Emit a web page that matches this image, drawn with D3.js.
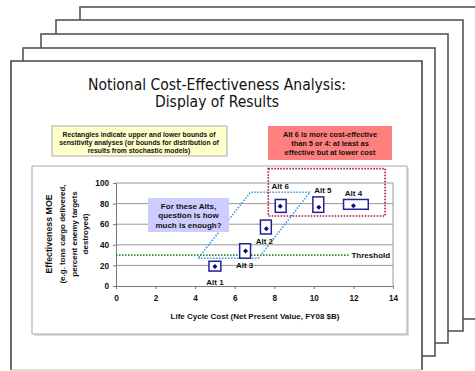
<!DOCTYPE html>
<html>
<head>
<meta charset="utf-8">
<script src="https://cdn.jsdelivr.net/npm/d3@7"></script>
<style>
  html, body { margin: 0; padding: 0; background: #fff; }
  svg { display: block; }
  text { font-family: "Liberation Sans", Arial, sans-serif; }
</style>
</head>
<body>
<svg id="chart" width="475" height="371"></svg>
<script>
// Alternatives: centre estimates and sensitivity bounds
const alts    = ["Alt 1", "Alt 2", "Alt 3", "Alt 4", "Alt 5", "Alt 6"];
const costMid = [5.0, 7.6, 6.55, 12.0, 10.25, 8.3];
const costLo  = [4.7, 7.3, 6.25, 11.5, 9.95, 8.05];
const costHi  = [5.3, 7.85, 6.8, 12.75, 10.5, 8.6];
const effMid  = [19, 55.5, 34, 78, 76.5, 77.5];
const effLo   = [14.5, 50.5, 27, 74.5, 71.5, 71.5];
const effHi   = [24, 64, 41, 84, 86.5, 84];

const xTicks = [0, 2, 4, 6, 8, 10, 12, 14];
const yTicks = [0, 20, 40, 60, 80, 100];
const threshold = 30;
const thresholdEnd = 11.8;

// "How much is enough" band (cost, effectiveness corners)
const bandCost = [4.15, 7.2, 9.8, 6.8];
const bandEff  = [27, 27, 91, 91];

// Dominance region around the high-effectiveness alternatives
const domCost = [7.7, 13.6];
const domEff  = [68, 114];

const titleLines  = ["Notional Cost-Effectiveness Analysis:", "Display of Results"];
const noteLines   = ["Rectangles indicate upper and lower bounds of",
                     "sensitivity analyses (or bounds for distribution of",
                     "results from stochastic models)"];
const alt6Lines   = ["Alt 6 is more cost-effective", "than 5 or 4: at least as",
                     "effective but at lower cost"];
const calloutLines = ["For these Alts,", "question is how", "much is enough?"];
const yTitleLines = ["Effectiveness MOE", "(e.g. tons cargo delivered,",
                     "percent enemy targets", "destroyed)"];
const xTitle = "Life Cycle Cost (Net Present Value, FY08 $B)";

const svg = d3.select("#chart");

// Stack of slide outlines behind the front page
const stack = [
  {x: 80, y: 7,  r: 490, b: 319},
  {x: 56, y: 20, r: 463, b: 331},
  {x: 41, y: 34, r: 448, b: 343},
  {x: 23, y: 48, r: 435, b: 356}
];
stack.forEach(s => {
  svg.append("rect").attr("x", s.x).attr("y", s.y)
    .attr("width", s.r - s.x).attr("height", s.b - s.y)
    .attr("fill", "#fff").attr("stroke", "#555").attr("stroke-width", 1.6);
});
// Front page
svg.append("rect").attr("x", 11).attr("y", 61).attr("width", 411).attr("height", 309)
  .attr("fill", "#fff").attr("stroke", "none");
svg.append("path").attr("d", "M11,370 V61 H422 V370")
  .attr("fill", "none").attr("stroke", "#444").attr("stroke-width", 1.6);
svg.append("line").attr("x1", 11).attr("x2", 422).attr("y1", 370).attr("y2", 370)
  .attr("stroke", "#bbb").attr("stroke-width", 1);

// Title
svg.append("g").selectAll("text").data(titleLines).join("text")
  .attr("x", 217).attr("y", (d, i) => 89.5 + i * 17)
  .attr("text-anchor", "middle")
  .style("font-family", "'DejaVu Sans Condensed', 'DejaVu Sans', sans-serif")
  .style("font-size", "15.5px").attr("fill", "#111")
  .text(d => d);

// Yellow note box
svg.append("rect").attr("x", 52).attr("y", 126).attr("width", 175).attr("height", 30)
  .attr("fill", "#ffffcc").attr("stroke", "#aaa").attr("stroke-width", 1);
svg.append("g").selectAll("text").data(noteLines).join("text")
  .attr("x", 139).attr("y", (d, i) => 136.5 + i * 8)
  .attr("text-anchor", "middle").style("font-size", "6.8px").style("font-weight", "bold")
  .attr("fill", "#111").text(d => d);

// Red note box
svg.append("rect").attr("x", 268).attr("y", 126).attr("width", 124).attr("height", 34)
  .attr("fill", "#ff7f7f");
svg.append("g").selectAll("text").data(alt6Lines).join("text")
  .attr("x", 330).attr("y", (d, i) => 136.5 + i * 9.4)
  .attr("text-anchor", "middle").style("font-size", "7.4px").style("font-weight", "bold")
  .attr("fill", "#111").text(d => d);

// Chart frame with a light shadow
svg.append("rect").attr("x", 34).attr("y", 168).attr("width", 375).attr("height", 168)
  .attr("fill", "#ddd");
svg.append("rect").attr("x", 32).attr("y", 166).attr("width", 375).attr("height", 168)
  .attr("fill", "#fff").attr("stroke", "#aaa").attr("stroke-width", 1);

// Scales
const x = d3.scaleLinear().domain([0, 14]).range([116, 393]);
const y = d3.scaleLinear().domain([0, 100]).range([286, 183]);

// Gridlines and plot border
const plot = svg.append("g");
plot.selectAll("line.grid").data(yTicks.filter(v => v > 0)).join("line")
  .attr("x1", x(0)).attr("x2", x(14)).attr("y1", d => y(d)).attr("y2", d => y(d))
  .attr("stroke", "#999").attr("stroke-width", 1);
plot.append("line").attr("x1", x(14)).attr("x2", x(14)).attr("y1", y(100)).attr("y2", y(0))
  .attr("stroke", "#999");

// Axes
const xAxis = svg.append("g").attr("transform", `translate(0,${y(0)})`)
  .call(d3.axisBottom(x).tickValues(xTicks).tickSize(3).tickPadding(6));
const yAxis = svg.append("g").attr("transform", `translate(${x(0)},0)`)
  .call(d3.axisLeft(y).tickValues(yTicks).tickSize(3).tickPadding(4));
[xAxis, yAxis].forEach(a => {
  a.select(".domain").attr("stroke", "#777");
  a.selectAll(".tick line").attr("stroke", "#777");
  a.selectAll(".tick text").style("font-size", "8.2px").style("font-weight", "bold")
    .style("font-family", "'Liberation Sans', Arial, sans-serif").attr("fill", "#111");
});

// Axis titles
svg.append("text").attr("x", 255).attr("y", 319).attr("text-anchor", "middle")
  .style("font-size", "8px").style("font-weight", "bold").attr("fill", "#111")
  .text(xTitle);
const yT = svg.append("g").attr("transform", "translate(0,234) rotate(-90)");
yT.selectAll("text").data(yTitleLines).join("text")
  .attr("x", 0).attr("y", (d, i) => [51.5, 65, 76.5, 88][i])
  .attr("text-anchor", "middle")
  .style("font-size", (d, i) => i === 0 ? "8.8px" : "8px").style("font-weight", "bold")
  .attr("fill", "#111").text(d => d);

// Threshold line
svg.append("line").attr("x1", x(0)).attr("x2", x(thresholdEnd))
  .attr("y1", y(threshold)).attr("y2", y(threshold))
  .attr("stroke", "#2e8b2e").attr("stroke-width", 1.6).attr("stroke-dasharray", "1.5,1.5");
svg.append("text").attr("x", x(thresholdEnd) + 2).attr("y", y(threshold) + 3)
  .style("font-size", "8px").style("font-weight", "bold").attr("fill", "#111").text("Threshold");

// "How much is enough" band
svg.append("polygon")
  .attr("points", bandCost.map((c, i) => [x(c), y(bandEff[i])].join(",")).join(" "))
  .attr("fill", "none").attr("stroke", "#3a9ad9").attr("stroke-width", 1.6)
  .attr("stroke-dasharray", "1.5,1.5");

// Dominance region
svg.append("rect").attr("x", x(domCost[0])).attr("y", y(domEff[1]))
  .attr("width", x(domCost[1]) - x(domCost[0])).attr("height", y(domEff[0]) - y(domEff[1]))
  .attr("fill", "none").attr("stroke", "#a8102a").attr("stroke-width", 1.6)
  .attr("stroke-dasharray", "1.5,1.5");

// Callout
svg.append("rect").attr("x", 148).attr("y", 198).attr("width", 81).attr("height", 34)
  .attr("fill", "#ccccff");
svg.append("g").selectAll("text").data(calloutLines).join("text")
  .attr("x", 188.5).attr("y", (d, i) => 209 + i * 9.3)
  .attr("text-anchor", "middle").style("font-size", "8px").style("font-weight", "bold")
  .attr("fill", "#111").text(d => d);

// Sensitivity boxes and centre markers
const idx = d3.range(alts.length);
svg.append("g").selectAll("rect").data(idx).join("rect")
  .attr("x", i => x(costLo[i])).attr("y", i => y(effHi[i]))
  .attr("width", i => x(costHi[i]) - x(costLo[i]))
  .attr("height", i => y(effLo[i]) - y(effHi[i]))
  .attr("fill", "#fff").attr("stroke", "#22229a").attr("stroke-width", 1.5);
svg.append("g").selectAll("path").data(idx).join("path")
  .attr("transform", i => `translate(${x(costMid[i])},${y(effMid[i])})`)
  .attr("d", d3.symbol(d3.symbolDiamond2, 16))
  .attr("fill", "#0a0a6e");

// Alternative labels
const labelPos = {
  "Alt 1": (i) => [x(costMid[i]), y(effLo[i]) + 14],
  "Alt 2": (i) => [x(costMid[i]) - 2, y(effLo[i]) + 10],
  "Alt 3": (i) => [x(costMid[i]) - 1, y(effLo[i]) + 10],
  "Alt 4": (i) => [x(costMid[i]), y(effHi[i]) - 3],
  "Alt 5": (i) => [x(costMid[i]) + 4, y(effHi[i]) - 4],
  "Alt 6": (i) => [x(costMid[i]), y(effHi[i]) - 10]
};
svg.append("g").selectAll("text").data(idx).join("text")
  .attr("x", i => labelPos[alts[i]](i)[0]).attr("y", i => labelPos[alts[i]](i)[1])
  .attr("text-anchor", "middle").style("font-size", "8px").style("font-weight", "bold")
  .attr("fill", "#111").text(i => alts[i]);
</script>
</body>
</html>
